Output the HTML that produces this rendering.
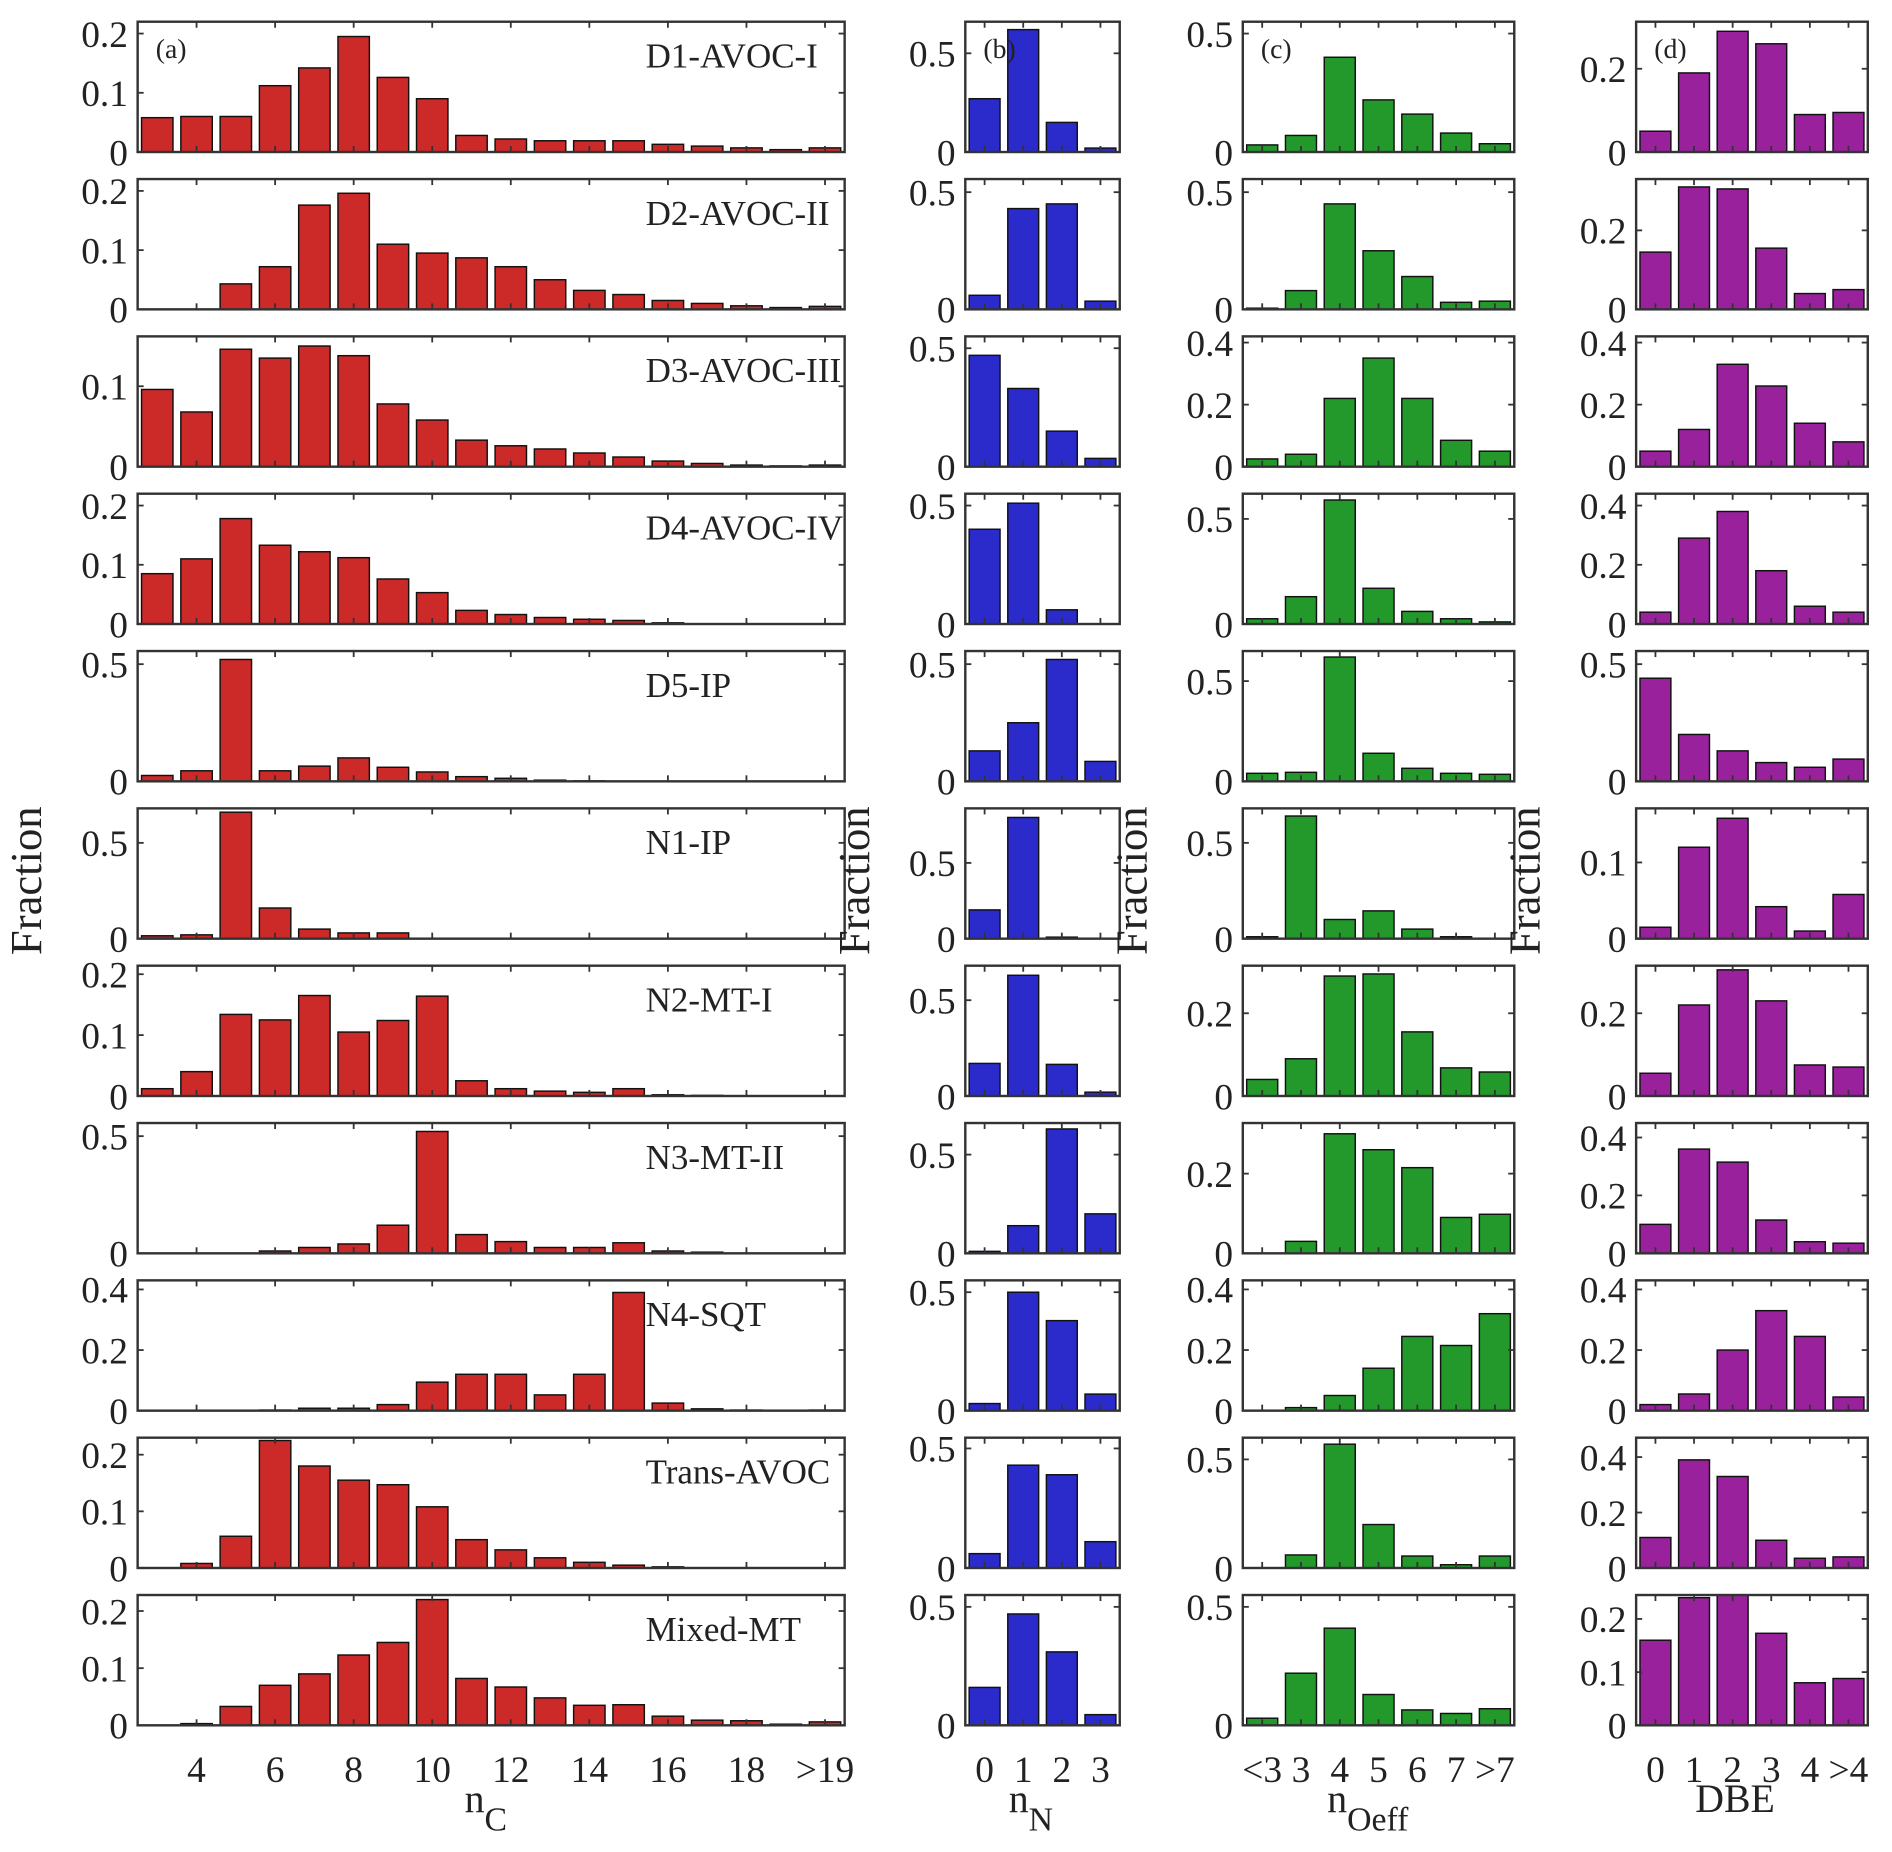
<!DOCTYPE html>
<html><head><meta charset="utf-8"><style>
html,body{margin:0;padding:0;background:#fff}
svg{display:block}
text{font-family:"Liberation Serif",serif;fill:#222}
</style></head><body>
<svg id="chart" width="1892" height="1852" viewBox="0 0 1568 1535" xmlns="http://www.w3.org/2000/svg"></svg>
<script>
const rowLabels=["D1-AVOC-I","D2-AVOC-II","D3-AVOC-III","D4-AVOC-IV","D5-IP","N1-IP","N2-MT-I","N3-MT-II","N4-SQT","Trans-AVOC","Mixed-MT"];
const catsC=["3","4","5","6","7","8","9","10","11","12","13","14","15","16","17","18","19",">19"];
const catsN=["0","1","2","3"];
const catsO=["<3","3","4","5","6","7",">7"];
const catsD=["0","1","2","3","4",">4"];
const valsC=[
[0.058,0.06,0.06,0.112,0.142,0.195,0.126,0.09,0.028,0.022,0.019,0.019,0.019,0.013,0.01,0.007,0.004,0.007],
[0,0,0.043,0.072,0.176,0.196,0.11,0.095,0.087,0.072,0.05,0.032,0.025,0.015,0.01,0.006,0.003,0.005],
[0.096,0.068,0.146,0.135,0.15,0.138,0.078,0.058,0.033,0.026,0.022,0.017,0.012,0.007,0.004,0.002,0.001,0.002],
[0.085,0.11,0.178,0.133,0.122,0.112,0.076,0.053,0.023,0.016,0.011,0.008,0.006,0.002,0,0,0,0],
[0.025,0.045,0.52,0.045,0.065,0.1,0.06,0.04,0.02,0.013,0.005,0.002,0,0,0,0,0,0],
[0.015,0.02,0.66,0.16,0.05,0.03,0.03,0,0,0,0,0,0,0,0,0,0,0],
[0.012,0.04,0.134,0.125,0.165,0.105,0.124,0.164,0.025,0.012,0.008,0.006,0.012,0.002,0.001,0,0,0],
[0,0,0,0.01,0.025,0.04,0.12,0.52,0.08,0.05,0.025,0.025,0.045,0.01,0.005,0,0,0],
[0,0,0,0.002,0.008,0.008,0.02,0.094,0.12,0.12,0.052,0.12,0.39,0.025,0.006,0.002,0,0.002],
[0,0.008,0.056,0.225,0.18,0.155,0.147,0.108,0.05,0.032,0.018,0.01,0.005,0.002,0,0,0,0],
[0,0.003,0.033,0.07,0.09,0.123,0.145,0.22,0.082,0.067,0.048,0.035,0.036,0.016,0.009,0.008,0.002,0.006]];
const valsN=[[0.27,0.62,0.15,0.02],[0.06,0.43,0.45,0.035],[0.47,0.33,0.15,0.035],[0.4,0.51,0.06,0],[0.13,0.25,0.52,0.085],[0.19,0.8,0.01,0],[0.17,0.63,0.165,0.02],[0.01,0.14,0.63,0.2],[0.03,0.5,0.38,0.07],[0.06,0.43,0.39,0.11],[0.16,0.47,0.31,0.045]];
const valsO=[[0.03,0.07,0.4,0.22,0.16,0.08,0.035],[0.005,0.08,0.45,0.25,0.14,0.03,0.035],[0.025,0.04,0.22,0.35,0.22,0.085,0.05],[0.025,0.13,0.59,0.17,0.06,0.025,0.01],[0.04,0.045,0.62,0.14,0.065,0.04,0.035],[0.01,0.64,0.1,0.145,0.05,0.01,0],[0.04,0.09,0.29,0.295,0.155,0.068,0.058],[0,0.03,0.3,0.26,0.215,0.09,0.098],[0,0.01,0.05,0.14,0.245,0.215,0.32],[0,0.06,0.57,0.2,0.055,0.015,0.055],[0.03,0.22,0.41,0.13,0.065,0.05,0.07]];
const valsD=[[0.05,0.19,0.29,0.26,0.09,0.095],[0.145,0.31,0.305,0.155,0.04,0.05],[0.05,0.12,0.33,0.26,0.14,0.08],[0.04,0.29,0.38,0.18,0.06,0.04],[0.44,0.2,0.13,0.08,0.06,0.095],[0.015,0.12,0.158,0.042,0.01,0.058],[0.055,0.22,0.305,0.23,0.075,0.07],[0.1,0.36,0.315,0.115,0.04,0.035],[0.02,0.055,0.2,0.33,0.245,0.045],[0.11,0.39,0.33,0.1,0.035,0.04],[0.16,0.24,0.255,0.173,0.08,0.088]];
const ymaxC=[0.22,0.22,0.162,0.22,0.556,0.68,0.214,0.556,0.43,0.23,0.228];
const ymaxN=[0.66,0.556,0.55,0.55,0.556,0.86,0.68,0.66,0.55,0.545,0.55];
const ymaxO=[0.55,0.556,0.42,0.62,0.65,0.68,0.315,0.327,0.43,0.6,0.55];
const ymaxD=[0.313,0.33,0.42,0.44,0.556,0.171,0.315,0.45,0.43,0.47,0.245];
const ticksC=[[0,0.1,0.2],[0,0.1,0.2],[0,0.1],[0,0.1,0.2],[0,0.5],[0,0.5],[0,0.1,0.2],[0,0.5],[0,0.2,0.4],[0,0.1,0.2],[0,0.1,0.2]];
const ticksN=[[0,0.5],[0,0.5],[0,0.5],[0,0.5],[0,0.5],[0,0.5],[0,0.5],[0,0.5],[0,0.5],[0,0.5],[0,0.5]];
const ticksO=[[0,0.5],[0,0.5],[0,0.2,0.4],[0,0.5],[0,0.5],[0,0.5],[0,0.2],[0,0.2],[0,0.2,0.4],[0,0.5],[0,0.5]];
const ticksD=[[0,0.2],[0,0.2],[0,0.2,0.4],[0,0.2,0.4],[0,0.5],[0,0.1],[0,0.2],[0,0.2,0.4],[0,0.2,0.4],[0,0.2,0.4],[0,0.1,0.2]];
const xtickC=["4","6","8","10","12","14","16","18",">19"];
const xtickCidx=[1,3,5,7,9,11,13,15,17];

const NS="http://www.w3.org/2000/svg";
const svg=document.getElementById('chart');
function mk(tag,attrs,parent){const e=document.createElementNS(NS,tag);for(const k in attrs)e.setAttribute(k,attrs[k]);(parent||svg).appendChild(e);return e;}
const panels=[
 {key:'a',x0:114,x1:700,cats:catsC,vals:valsC,ymax:ymaxC,ticks:ticksC,color:'#cc2929',name:'carbon'},
 {key:'b',x0:800,x1:928,cats:catsN,vals:valsN,ymax:ymaxN,ticks:ticksN,color:'#2b2bcc',name:'nitrogen'},
 {key:'c',x0:1030,x1:1255,cats:catsO,vals:valsO,ymax:ymaxO,ticks:ticksO,color:'#22992a',name:'oxygen'},
 {key:'d',x0:1356,x1:1548,cats:catsD,vals:valsD,ymax:ymaxD,ticks:ticksD,color:'#99229c',name:'dbe'}];
const top0=18,pitch=130.4,rh=108;
function fmt(v){return v===0?"0":String(v);}
panels.forEach(p=>{
 const n=p.cats.length,bw=(p.x1-p.x0)/n;
 const xc=i=>p.x0+bw*(i+0.5);
 for(let r=0;r<rowLabels.length;r++){
  const yt=top0+r*pitch,yb=yt+rh;
  const g=mk('g',{});
  
  
  const ys=v=>yb-v/p.ymax[r]*rh;
  p.vals[r].forEach((v,i)=>{
   if(v<=0)return;
   const y=Math.max(ys(v),yt);
   const b=mk('rect',{x:xc(i)-bw*0.4,y:y,width:bw*0.8,height:yb-y,fill:p.color,stroke:'#111','stroke-width':1.2},g);
   
   
  });
  const fr=mk('rect',{x:p.x0,y:yt,width:p.x1-p.x0,height:rh,fill:'none',stroke:'#333','stroke-width':2},g);
  
  
  p.ticks[r].forEach(t=>{
   const y=ys(t);
   mk('line',{x1:p.x0,x2:p.x0+5,y1:y,y2:y,stroke:'#333','stroke-width':1.5},g);
   mk('line',{x1:p.x1,x2:p.x1-5,y1:y,y2:y,stroke:'#333','stroke-width':1.5},g);
   const tl=mk('text',{x:p.x0-8,y:y+11,'font-size':31,'text-anchor':'end'},g);
   tl.textContent=fmt(t);
   
   
  });
  const xi=p.key==='a'?xtickCidx:p.cats.map((c,i)=>i);
  xi.forEach(i=>{mk('line',{x1:xc(i),x2:xc(i),y1:yt,y2:yt+5,stroke:'#333','stroke-width':1.5},g);mk('line',{x1:xc(i),x2:xc(i),y1:yb,y2:yb-5,stroke:'#333','stroke-width':1.5},g);});
  if(r===0){
   const pl=mk('text',{x:p.x0+15,y:yt+30,'font-size':23},g);
   pl.textContent='('+p.key+')';
   
   
  }
  if(p.key==='a'){
   const lb=mk('text',{x:535,y:yt+38,'font-size':29},g);
   lb.textContent=rowLabels[r];
   
   
  }
 }
 const xi=p.key==='a'?xtickCidx:p.cats.map((c,i)=>i);
 xi.forEach((i,k)=>{
  const t=mk('text',{x:xc(i),y:1477,'font-size':31,'text-anchor':'middle'});
  t.textContent=p.key==='a'?xtickC[k]:p.cats[i];
  
  
 });
 const fx=p.x0-80;
 const yt=mk('text',{x:0,y:0,'font-size':37,'text-anchor':'middle',transform:`translate(${fx},730) rotate(-90)`});
 yt.textContent='Fraction';
 
 
});
function xtitle(x,main,sub,name){
 const t=mk('text',{x:x,y:1502,'font-size':33});
 
 
 const a=mk('tspan',{},t);a.textContent=main;
 if(sub){const s=mk('tspan',{dy:15,'font-size':28},t);s.textContent=sub;}
}
xtitle(385,'n','C','x-axis-title-nc');
xtitle(836,'n','N','x-axis-title-nn');
xtitle(1100,'n','Oeff','x-axis-title-noeff');
xtitle(1405,'DBE','', 'x-axis-title-dbe');
</script>
</body></html>
